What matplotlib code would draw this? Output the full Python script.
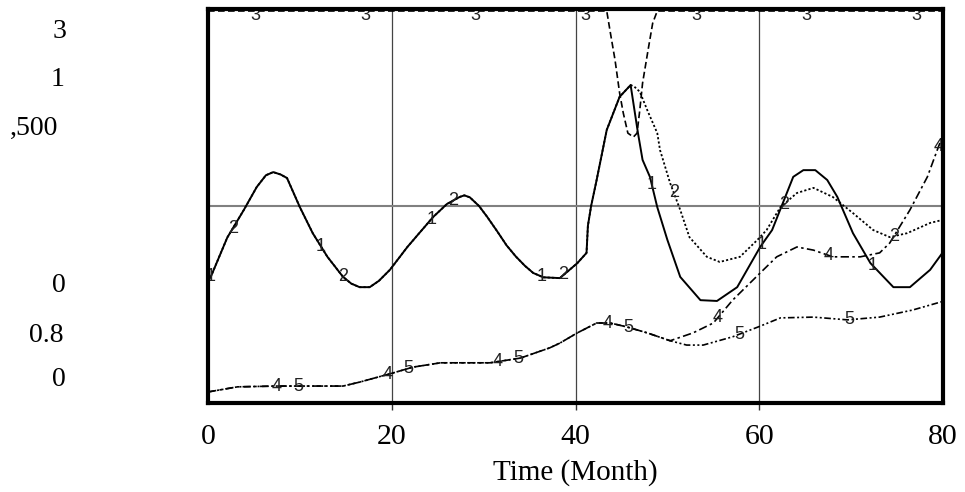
import matplotlib
matplotlib.use("Agg")
import matplotlib.pyplot as plt
import numpy as np

# values, as fractions of the plot height (0 = bottom, 1 = top)
t1 = [0, 0.3, 2.1, 3.9, 5.3, 6.3, 7.1, 7.9, 8.6, 10.0, 11.4, 13.0, 14.7, 15.6, 16.5, 17.6, 18.6,
      19.8, 21.7, 24.5, 26.0, 27.4, 27.9, 28.5, 29.5, 30.4, 31.5, 32.5, 33.5, 34.5, 35.4, 36.5,
      38.3, 40.2, 41.2, 41.35, 41.7, 42.3, 43.4, 44.8, 46.0, 46.8, 47.3, 48.1, 48.9, 50.0, 51.4,
      53.6, 55.4, 57.6, 60.1, 61.4, 63.7, 64.8, 66.1, 67.4, 68.5, 70.2, 72.1, 74.6, 76.4, 78.6, 80]
s1 = [0.31, 0.32, 0.42, 0.49, 0.548, 0.578, 0.586, 0.58, 0.571, 0.497, 0.431, 0.371, 0.320,
      0.303, 0.294, 0.294, 0.310, 0.338, 0.396, 0.472, 0.505, 0.523, 0.527, 0.522, 0.50, 0.472,
      0.435, 0.40, 0.372, 0.348, 0.330, 0.319, 0.317, 0.355, 0.381, 0.45, 0.50, 0.566, 0.693,
      0.777, 0.807, 0.685, 0.617, 0.574, 0.497, 0.414, 0.320, 0.261, 0.259, 0.294, 0.396, 0.439,
      0.574, 0.591, 0.591, 0.566, 0.523, 0.431, 0.355, 0.294, 0.294, 0.338, 0.383]

# series 2 follows series 1 until the big peak near month 46
t2_tail = [46.4, 47.0, 47.8, 48.9, 49.2, 50.3, 51.4, 52.4, 54.3, 55.7, 57.9, 59.8, 60.8,
           62.3, 64.1, 65.9, 68.0, 70.2, 72.4, 74.2, 76.1, 78.6, 80]
s2_tail = [0.803, 0.79, 0.744, 0.685, 0.642, 0.558, 0.49, 0.421, 0.371, 0.358, 0.371, 0.414,
           0.439, 0.497, 0.533, 0.546, 0.523, 0.482, 0.439, 0.421, 0.431, 0.457, 0.465]

t3 = [0, 43.4, 43.8, 44.3, 44.8, 45.2, 45.7, 46.3, 46.7, 47.0, 47.3, 47.9, 48.4, 48.9, 80]
s3 = [0.995, 0.995, 0.939, 0.871, 0.787, 0.736, 0.685, 0.675, 0.685, 0.744, 0.812, 0.896,
      0.964, 0.995, 0.995]

# series 4 and 5 coincide until about month 50
t45 = [0, 3.2, 7.5, 14.7, 16.5, 20.1, 22.3, 25.3, 30.7, 34.0, 37.2, 38.3, 40.2, 42.3, 43.8,
       45.6, 47.8, 50.3]
s45 = [0.028, 0.041, 0.043, 0.043, 0.053, 0.076, 0.091, 0.102, 0.102, 0.114, 0.140, 0.152,
       0.178, 0.203, 0.203, 0.193, 0.178, 0.158]
t4_tail = [52.8, 55.0, 57.1, 60.1, 61.9, 64.1, 65.9, 68.0, 71.0, 73.1, 74.2, 76.4, 78.3, 79.5, 80]
s4_tail = [0.178, 0.203, 0.261, 0.330, 0.371, 0.396, 0.388, 0.371, 0.371, 0.381, 0.406, 0.490,
           0.574, 0.650, 0.680]
t5_tail = [52.1, 53.9, 57.1, 60.1, 62.3, 65.9, 69.6, 73.1, 76.7, 80]
s5_tail = [0.147, 0.147, 0.168, 0.195, 0.216, 0.218, 0.211, 0.218, 0.236, 0.258]

x_ticks = [0, 20, 40, 60, 80]
y_labels = ["3", "1", ",500", "0", "0.8", "0"]

n_peak = t1.index(46.0) + 1
t2 = t1[:n_peak] + t2_tail
s2 = s1[:n_peak] + s2_tail
t4 = t45 + t4_tail
s4 = s45 + s4_tail
t5 = t45 + t5_tail
s5 = s45 + s5_tail

W, H = 965, 492
fig = plt.figure(figsize=(W / 100, H / 100), dpi=100)
ax = fig.add_axes([208 / W, (H - 403) / H, 735 / W, 394 / H])

series = [
    (t1, s1, "-", 1.4, 0.3),
    (t2, s2, (0, (1.2, 1.2)), 1.3, 2.7),
    (t3, s3, (0, (4, 2)), 1.2, 5.1),
    (t4, s4, (0, (5, 2, 1.5, 2)), 1.2, 7.5),
    (t5, s5, (0, (4, 1.5, 1.2, 1.5, 1.2, 1.5)), 1.2, 9.8),
]
for i, (t, s, ls, lw, first) in enumerate(series):
    ax.plot(t, s, color="black", linestyle=ls, linewidth=lw, zorder=3)
    for tl in np.arange(first, 80, 12):
        ly = min(np.interp(tl, t, s), 0.983)
        ax.text(tl, ly, str(i + 1), ha="center", va="center",
                fontsize=13, family="Liberation Sans", color="#222222", zorder=4,
                clip_on=True)

ax.set_xlim(0, 80)
ax.set_ylim(0, 1)
ax.set_yticks([])
ax.set_xticks(x_ticks)
ax.set_xticklabels([str(v) for v in x_ticks], family="Liberation Serif", fontsize=21.5)
ax.tick_params(axis="x", length=5, width=1, color="#333333", pad=10)
ax.xaxis.get_major_ticks()[0].tick1line.set_visible(False)
ax.xaxis.get_major_ticks()[-1].tick1line.set_visible(False)
for v in x_ticks[1:-1]:
    ax.axvline(v, color="#444444", linewidth=0.9, zorder=1)
ax.axhline(0.5, color="#808080", linewidth=1.5, zorder=1)
for sp in ax.spines.values():
    sp.set_linewidth(3)
    sp.set_zorder(5)
ax.set_xlabel("Time (Month)", family="Liberation Serif", fontsize=21, labelpad=7)

# stacked scale labels on the left, as in the original
label_pos = [(66, 32), (64, 80), (58, 128), (66, 285), (63, 335), (66, 380)]
for txt, (px, py) in zip(y_labels, label_pos):
    fig.text(px / W, 1 - py / H, txt, ha="right", va="center",
             family="Liberation Serif", fontsize=20)

fig.savefig("out.png", dpi=100)
